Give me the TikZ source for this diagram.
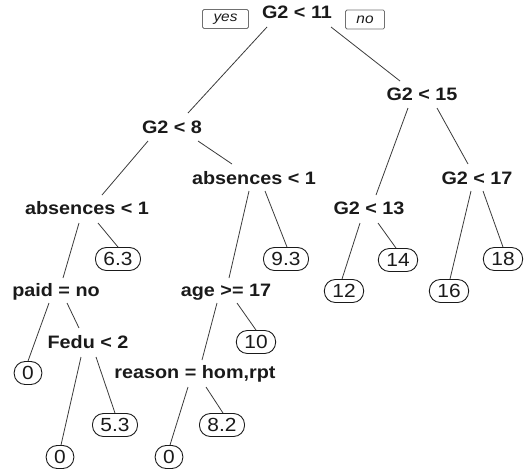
\documentclass[tikz,border=0pt]{standalone}
\usepackage{fontspec}
\setmainfont{Liberation Sans}[FakeStretch=1.1]
\usetikzlibrary{calc}
\definecolor{txt}{HTML}{1A1A1A}
\definecolor{edge}{HTML}{3A3A3A}
\definecolor{ynb}{HTML}{707070}
\tikzset{
  split/.style={anchor=base, inner sep=0pt, text=txt, font=\fontsize{18}{20}\selectfont\bfseries},
  leaf/.style={draw=txt, line width=0.9pt, rounded corners=11pt, minimum height=23pt, inner xsep=8pt, inner ysep=0pt, text=txt, font=\fontsize{19}{21}\selectfont, text height=13.6pt, text depth=0pt},
  yn/.style={draw=ynb, line width=0.8pt, rounded corners=1.5pt, minimum height=19pt, inner xsep=11pt, inner ysep=0pt, text=txt, font=\fontsize{14}{16}\selectfont\itshape},
  br/.style={draw=edge, line width=0.8pt}
}
\begin{document}
\begin{tikzpicture}[x=1pt,y=-1pt]
\useasboundingbox (0,0) rectangle (532,472);
% split nodes (placed at baseline)
\node[split] (root) at (297,18) {G2 < 11};
\node[split] (g15) at (422,100) {G2 < 15};
\node[split] (g8) at (172,133) {G2 < 8};
\node[split] (absM) at (254,184) {absences < 1};
\node[split] (g17) at (477,184) {G2 < 17};
\node[split] (absL) at (87,214) {absences < 1};
\node[split] (g13) at (369,214) {G2 < 13};
\node[split] (paid) at (56,296) {paid = no};
\node[split] (age) at (226,296) {age >= 17};
\node[split] (fedu) at (88,348) {Fedu < 2};
\node[split] (reason) at (195,378) {reason = hom,rpt};
% yes / no
\node[yn] (yes) at (225.5,19) {yes};
\node[yn] (no) at (365,19.5) {no};
% leaves
\node[leaf] (l63) at (118,259) {6.3};
\node[leaf] (l93) at (286,259) {9.3};
\node[leaf] (l14) at (398,260) {14};
\node[leaf] (l18) at (503,259) {18};
\node[leaf] (l12) at (344,291) {12};
\node[leaf] (l16) at (449,291) {16};
\node[leaf] (l10) at (256,342) {10};
\node[leaf] (l0a) at (28,373) {0};
\node[leaf] (l53) at (115,425) {5.3};
\node[leaf] (l82) at (222,425) {8.2};
\node[leaf] (l0b) at (60,457) {0};
\node[leaf] (l0c) at (169,457) {0};
% branches
\draw[br] ($(root.base)+(-30,9)$) -- ($(g8.base)+(16,-20)$);
\draw[br] ($(root.base)+(34,9)$) -- ($(g15.base)+(-22,-19)$);
\draw[br] ($(g15.base)+(-14,8)$) -- ($(g13.base)+(7,-19)$);
\draw[br] ($(g15.base)+(15,8)$) -- ($(g17.base)+(-9,-20)$);
\draw[br] ($(g8.base)+(-24,8)$) -- ($(absL.base)+(15,-19)$);
\draw[br] ($(g8.base)+(26,8)$) -- ($(absM.base)+(-22,-20)$);
\draw[br] ($(absM.base)+(-5,7)$) -- ($(age.base)+(3,-18)$);
\draw[br] ($(absM.base)+(11,7)$) -- ($(l93.north)+(1,0)$);
\draw[br] ($(g17.base)+(-6,7)$) -- ($(l16.north)+(1,0)$);
\draw[br] ($(g17.base)+(6,7)$) -- (l18.north);
\draw[br] ($(absL.base)+(-8,9)$) -- ($(paid.base)+(7,-18)$);
\draw[br] ($(absL.base)+(11,9)$) -- (l63.north);
\draw[br] ($(g13.base)+(-9,9)$) -- ($(l12.north)+(-2,0)$);
\draw[br] ($(g13.base)+(9,9)$) -- ($(l14.north)+(-2,0)$);
\draw[br] ($(paid.base)+(-7,7)$) -- (l0a.north);
\draw[br] ($(paid.base)+(11,7)$) -- ($(fedu.base)+(-9,-20)$);
\draw[br] ($(age.base)+(-9,7)$) -- ($(reason.base)+(7,-18)$);
\draw[br] ($(age.base)+(11,7)$) -- (l10.north);
\draw[br] ($(fedu.base)+(-7,9)$) -- ($(l0b.north)+(1,0)$);
\draw[br] ($(fedu.base)+(8,9)$) -- (l53.north);
\draw[br] ($(reason.base)+(-7,9)$) -- ($(l0c.north)+(1,0)$);
\draw[br] ($(reason.base)+(11,9)$) -- ($(l82.north)+(1,0)$);
\end{tikzpicture}
\end{document}
